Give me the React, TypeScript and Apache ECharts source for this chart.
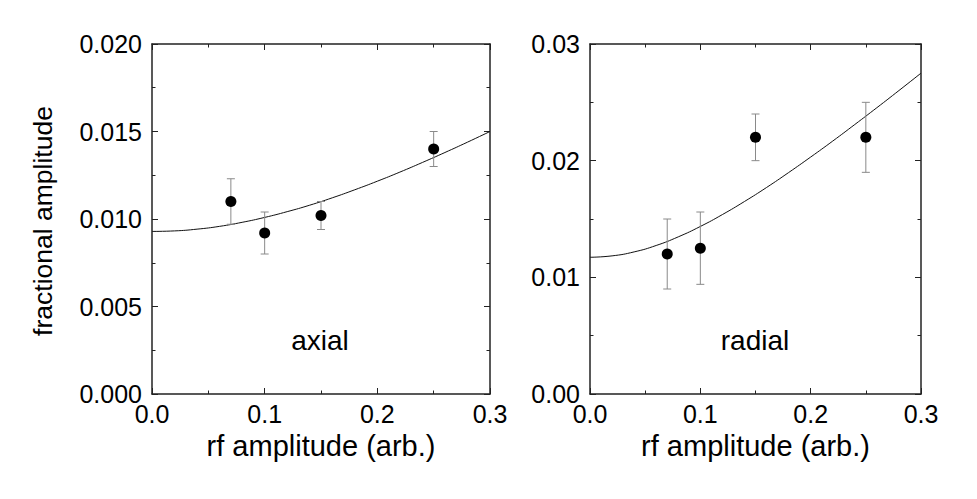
import React, { useEffect, useRef } from "react";
import * as echarts from "echarts";

const xPoints = [0.07, 0.1, 0.15, 0.25];
const axialY = [0.011, 0.0092, 0.0102, 0.014];
const axialLow = [0.0097, 0.008, 0.0094, 0.013];
const axialHigh = [0.0123, 0.0104, 0.011, 0.015];
const radialY = [0.012, 0.0125, 0.022, 0.022];
const radialLow = [0.009, 0.0094, 0.02, 0.019];
const radialHigh = [0.015, 0.0156, 0.024, 0.025];

// fitted curves
const fitX = [0, 0.02, 0.04, 0.06, 0.08, 0.1, 0.12, 0.14, 0.16, 0.18, 0.2, 0.22, 0.24, 0.26, 0.28, 0.3];
const axialFit = [0.00929, 0.00932, 0.00942, 0.00958, 0.00981, 0.01009, 0.01042, 0.01079, 0.01121, 0.01167, 0.01216, 0.01268, 0.01323, 0.0138, 0.01439, 0.015];
const radialFit = [0.01172, 0.01184, 0.01218, 0.01273, 0.01347, 0.01436, 0.01538, 0.0165, 0.0177, 0.01898, 0.02031, 0.02168, 0.0231, 0.02454, 0.02601, 0.0275];

const panelLabels = ["axial", "radial"];
const xTitle = "rf amplitude (arb.)";
const yTitle = "fractional amplitude";

const FONT = "'Liberation Sans', Arial, Helvetica, sans-serif";
const AXIS_COLOR = "#222";

function errorBarSeries(xAxisIndex: number, yAxisIndex: number, low: number[], high: number[]) {
  return {
    type: "custom",
    xAxisIndex,
    yAxisIndex,
    z: 3,
    silent: true,
    encode: { x: 0, y: [1, 2] },
    data: xPoints.map((x, i) => [x, low[i], high[i]]),
    renderItem: (params: any, api: any) => {
      const x = api.value(0);
      const pLo = api.coord([x, api.value(1)]);
      const pHi = api.coord([x, api.value(2)]);
      const w = 4;
      const style = { stroke: "#8a8a8a", lineWidth: 1 };
      return {
        type: "group",
        children: [
          { type: "line", shape: { x1: pLo[0], y1: pLo[1], x2: pHi[0], y2: pHi[1] }, style },
          { type: "line", shape: { x1: pLo[0] - w, y1: pLo[1], x2: pLo[0] + w, y2: pLo[1] }, style },
          { type: "line", shape: { x1: pHi[0] - w, y1: pHi[1], x2: pHi[0] + w, y2: pHi[1] }, style },
        ],
      };
    },
  };
}

function xAxisDef(gridIndex: number, position: string, showLabel: boolean, withName: boolean) {
  return {
    type: "value",
    gridIndex,
    position,
    min: 0,
    max: 0.3,
    interval: 0.1,
    splitLine: { show: false },
    axisLine: { show: true, onZero: false, lineStyle: { color: AXIS_COLOR, width: 1.5 } },
    axisTick: { show: true, inside: true, length: 6, lineStyle: { color: AXIS_COLOR, width: 1 } },
    minorTick: { show: true, splitNumber: 2, length: 3.5, lineStyle: { color: AXIS_COLOR, width: 1 } },
    axisLabel: {
      show: showLabel,
      margin: 7,
      color: "#000",
      fontFamily: FONT,
      fontSize: 25,
      formatter: (v: number) => v.toFixed(1),
    },
    name: withName ? xTitle : "",
    nameLocation: "middle",
    nameGap: 37,
    nameTextStyle: { color: "#000", fontFamily: FONT, fontSize: 29 },
  };
}

function yAxisDef(gridIndex: number, position: string, max: number, interval: number, digits: number, showLabel: boolean) {
  return {
    type: "value",
    gridIndex,
    position,
    min: 0,
    max,
    interval,
    splitLine: { show: false },
    axisLine: { show: true, onZero: false, lineStyle: { color: AXIS_COLOR, width: 1.5 } },
    axisTick: { show: true, inside: true, length: 6, lineStyle: { color: AXIS_COLOR, width: 1 } },
    minorTick: { show: true, splitNumber: 2, length: 3.5, lineStyle: { color: AXIS_COLOR, width: 1 } },
    axisLabel: {
      show: showLabel,
      margin: 10,
      color: "#000",
      fontFamily: FONT,
      fontSize: 25,
      formatter: (v: number) => v.toFixed(digits),
    },
  };
}

export default function App() {
  const ref = useRef<HTMLDivElement>(null);
  useEffect(() => {
    if (!ref.current) return;
    const chart = echarts.init(ref.current, undefined, { renderer: "svg" });
    const option: any = {
      animation: false,
      backgroundColor: "#fff",
      grid: [
        { left: 152, top: 44, width: 338, height: 350 },
        { left: 590, top: 44, width: 331, height: 350 },
      ],
      xAxis: [
        xAxisDef(0, "bottom", true, true),
        xAxisDef(0, "top", false, false),
        xAxisDef(1, "bottom", true, true),
        xAxisDef(1, "top", false, false),
      ],
      yAxis: [
        yAxisDef(0, "left", 0.02, 0.005, 3, true),
        yAxisDef(0, "right", 0.02, 0.005, 3, false),
        yAxisDef(1, "left", 0.03, 0.01, 2, true),
        yAxisDef(1, "right", 0.03, 0.01, 2, false),
      ],
      graphic: [
        {
          type: "text",
          x: 43,
          y: 221,
          rotation: Math.PI / 2,
          style: {
            text: yTitle,
            fill: "#000",
            font: `26.5px ${FONT}`,
            align: "center",
            verticalAlign: "middle",
          },
        },
        {
          type: "text",
          x: 320,
          y: 340,
          style: { text: panelLabels[0], fill: "#000", font: `28px ${FONT}`, align: "center", verticalAlign: "middle" },
        },
        {
          type: "text",
          x: 755,
          y: 340,
          style: { text: panelLabels[1], fill: "#000", font: `28px ${FONT}`, align: "center", verticalAlign: "middle" },
        },
      ],
      series: [
        {
          type: "line",
          xAxisIndex: 0,
          yAxisIndex: 0,
          data: fitX.map((x, i) => [x, axialFit[i]]),
          smooth: true,
          showSymbol: false,
          symbol: "none",
          lineStyle: { color: "#111", width: 1 },
          z: 2,
          silent: true,
        },
        errorBarSeries(0, 0, axialLow, axialHigh),
        {
          type: "scatter",
          xAxisIndex: 0,
          yAxisIndex: 0,
          data: xPoints.map((x, i) => [x, axialY[i]]),
          symbol: "circle",
          symbolSize: 11,
          itemStyle: { color: "#000", opacity: 1 },
          z: 4,
          silent: true,
        },
        {
          type: "line",
          xAxisIndex: 2,
          yAxisIndex: 2,
          data: fitX.map((x, i) => [x, radialFit[i]]),
          smooth: true,
          showSymbol: false,
          symbol: "none",
          lineStyle: { color: "#111", width: 1 },
          z: 2,
          silent: true,
        },
        errorBarSeries(2, 2, radialLow, radialHigh),
        {
          type: "scatter",
          xAxisIndex: 2,
          yAxisIndex: 2,
          data: xPoints.map((x, i) => [x, radialY[i]]),
          symbol: "circle",
          symbolSize: 11,
          itemStyle: { color: "#000", opacity: 1 },
          z: 4,
          silent: true,
        },
      ],
    };
    chart.setOption(option);
    return () => chart.dispose();
  }, []);
  return (
    <div
      ref={ref}
      style={{ position: "fixed", left: 0, top: 0, width: 977, height: 499, background: "#fff" }}
    />
  );
}
